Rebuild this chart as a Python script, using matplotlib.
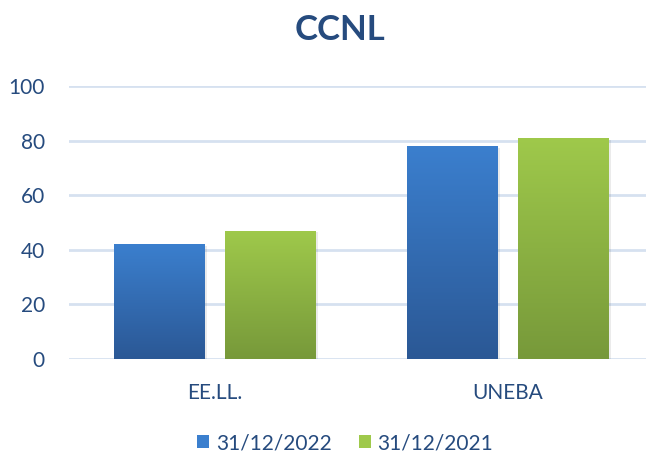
import matplotlib
matplotlib.use("Agg")
import matplotlib.pyplot as plt
import numpy as np
from matplotlib.colors import LinearSegmentedColormap
from matplotlib.patches import Patch

categories = ["EE.LL.", "UNEBA"]
series_names = ["31/12/2022", "31/12/2021"]
values_2022 = [42, 78]
values_2021 = [47, 81]
yticks = [0, 20, 40, 60, 80, 100]

text_color = "#264B7E"
grid_color = "#D6E1F0"
blue_top, blue_bot = "#3B7FCE", "#2B5895"
green_top, green_bot = "#9FC94B", "#77993A"

plt.rcParams['font.family'] = ['Lato', 'DejaVu Sans']

fig = plt.figure(figsize=(6.46, 4.54), dpi=100)
ax = fig.add_axes([68.5/646, 1-359/454, 586/646, (359-86)/454])

x = np.arange(len(categories))
width = 0.31
offset = 0.19

def grad_bars(xs, vals, top, bot, label):
    bars = ax.bar(xs, vals, width, color=bot, label=label, zorder=3)
    cmap = LinearSegmentedColormap.from_list("g", [bot, top])
    grad = np.linspace(0, 1, 256).reshape(-1, 1)
    for b in bars:
        bx, by = b.get_x(), b.get_y()
        w, h = b.get_width(), b.get_height()
        ax.bar(bx + w/2 + 0.006, h, w, bottom=by - 0.6, color="#000000", alpha=0.08, zorder=2)
        im = ax.imshow(grad, extent=[bx, bx + w, by, by + h], origin="lower",
                       cmap=cmap, aspect="auto", zorder=4)
        im.set_clip_path(b)
    return bars

grad_bars(x - offset, values_2022, blue_top, blue_bot, series_names[0])
grad_bars(x + offset, values_2021, green_top, green_bot, series_names[1])

ax.set_xlim(-0.5, 1.5)
ax.set_ylim(0, 100)
ax.set_yticks(yticks)
ax.set_xticks(x)
ax.set_xticklabels(categories)
ax.yaxis.grid(True, color=grid_color, linewidth=2, zorder=0)
ax.set_axisbelow(True)
for s in ax.spines.values():
    s.set_visible(False)
ax.tick_params(axis="both", length=0, colors=text_color, labelsize=15)
ax.tick_params(axis="y", pad=17)
ax.tick_params(axis="x", pad=17)

fig.text(340/646, 1-30/454, "CCNL", ha="center", va="center", fontsize=25,
         fontweight="bold", color=text_color)

handles = [Patch(facecolor=blue_top, edgecolor="none"), Patch(facecolor=green_top, edgecolor="none")]
leg = fig.legend(handles, series_names, loc="center", bbox_to_anchor=(345/646, 1-443/454),
                 ncol=2, frameon=False, fontsize=15, handlelength=0.6, handleheight=0.6,
                 handletextpad=0.3, columnspacing=1.3, labelcolor=text_color)

fig.savefig("out.png", dpi=100)
